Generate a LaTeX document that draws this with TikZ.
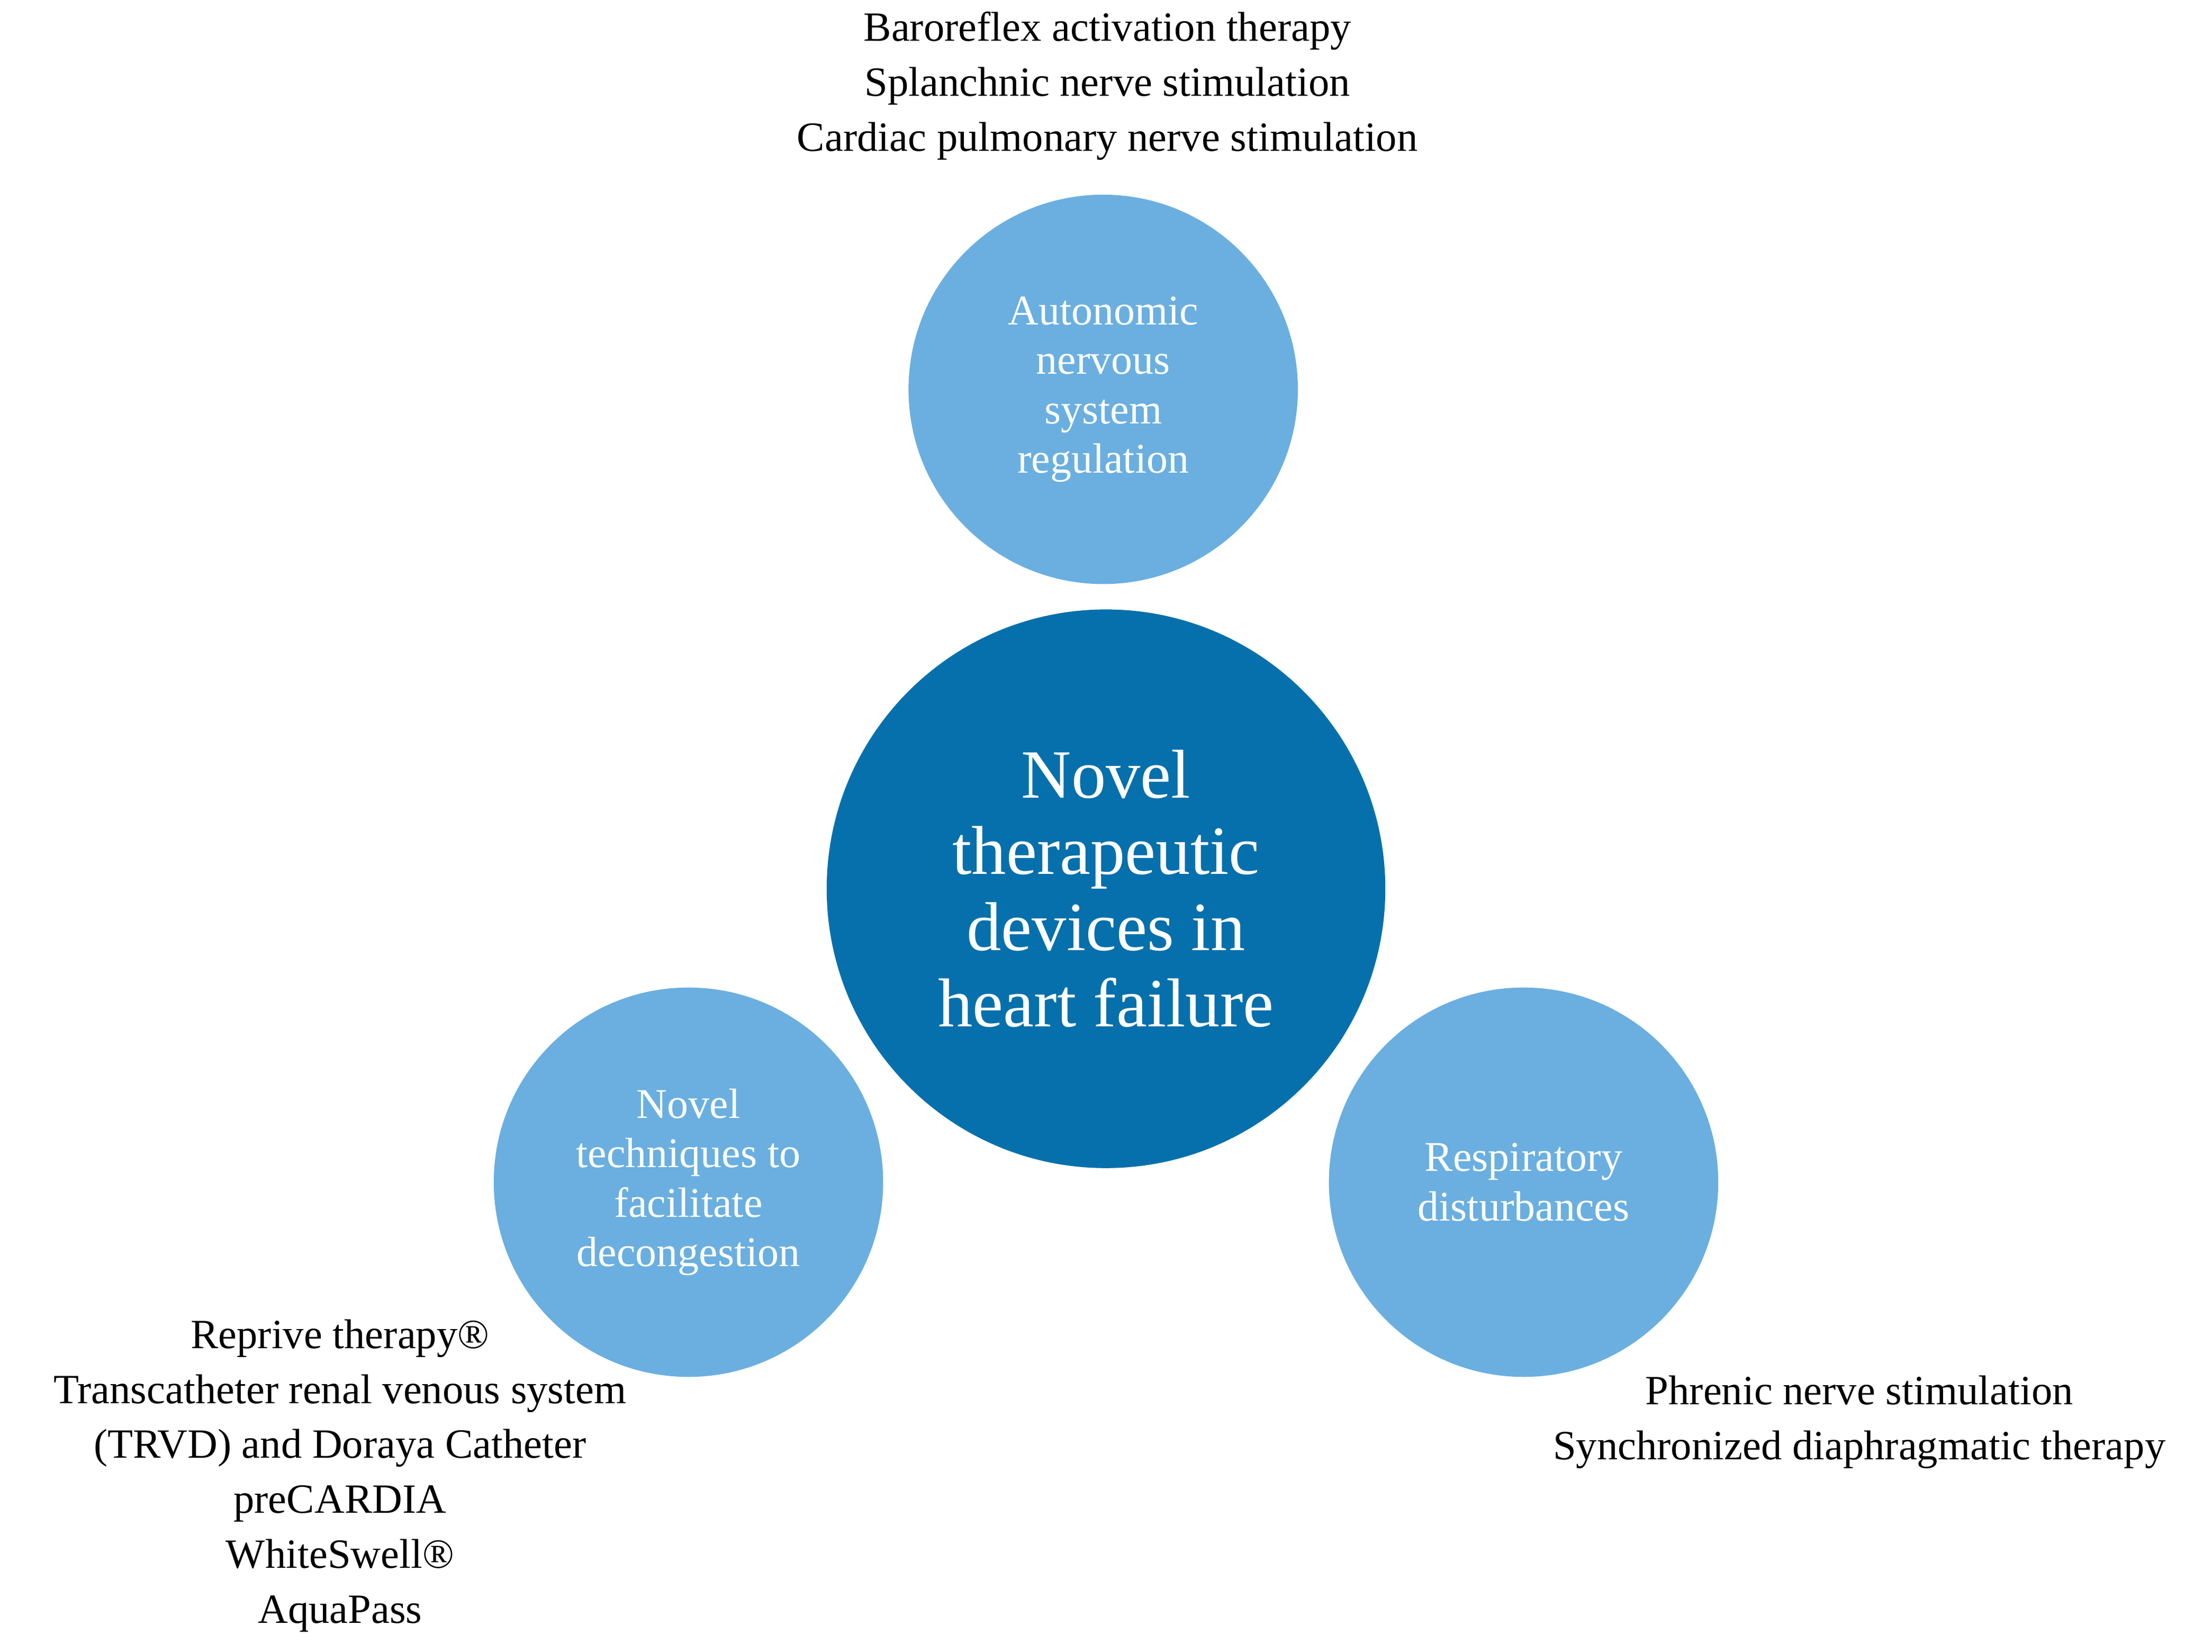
\documentclass[tikz,border=0pt]{standalone}
\usepackage{fontspec}
\setmainfont{Liberation Serif}
\definecolor{dark}{HTML}{0570AC}
\definecolor{light}{HTML}{6AAFE0}
\begin{document}
\begin{tikzpicture}[x=1pt,y=-1pt,
  small/.style={circle,fill=light,minimum size=276pt,inner sep=0pt,text=white,align=center,font=\fontsize{30}{35}\selectfont},
  big/.style={circle,fill=dark,minimum size=396pt,inner sep=0pt,text=white,align=center,font=\fontsize{49}{54}\selectfont},
  lab/.style={align=center,font=\fontsize{29.5}{39}\selectfont,inner sep=0pt}]
\useasboundingbox (0,0) rectangle (1568,1171);
\node[big] (c) at (784,630) {Novel\\therapeutic\\devices in\\heart failure};
\node[small] (t) at (782,276) {Autonomic\\nervous\\system\\regulation};
\node[small] (l) at (488,838) {Novel\\techniques to\\facilitate\\decongestion};
\node[small] (r) at (1080,838) {Respiratory\\disturbances};
\node[lab,anchor=north] (tl) at (785,8) {Baroreflex activation therapy\\Splanchnic nerve stimulation\\Cardiac pulmonary nerve stimulation};
\node[lab,anchor=north] (ll) at (241,935) {Reprive therapy®\\Transcatheter renal venous system\\(TRVD) and Doraya Catheter\\preCARDIA\\WhiteSwell®\\AquaPass};
\node[lab,anchor=north] (rl) at (1318,975) {Phrenic nerve stimulation\\Synchronized diaphragmatic therapy};
\end{tikzpicture}
\end{document}
